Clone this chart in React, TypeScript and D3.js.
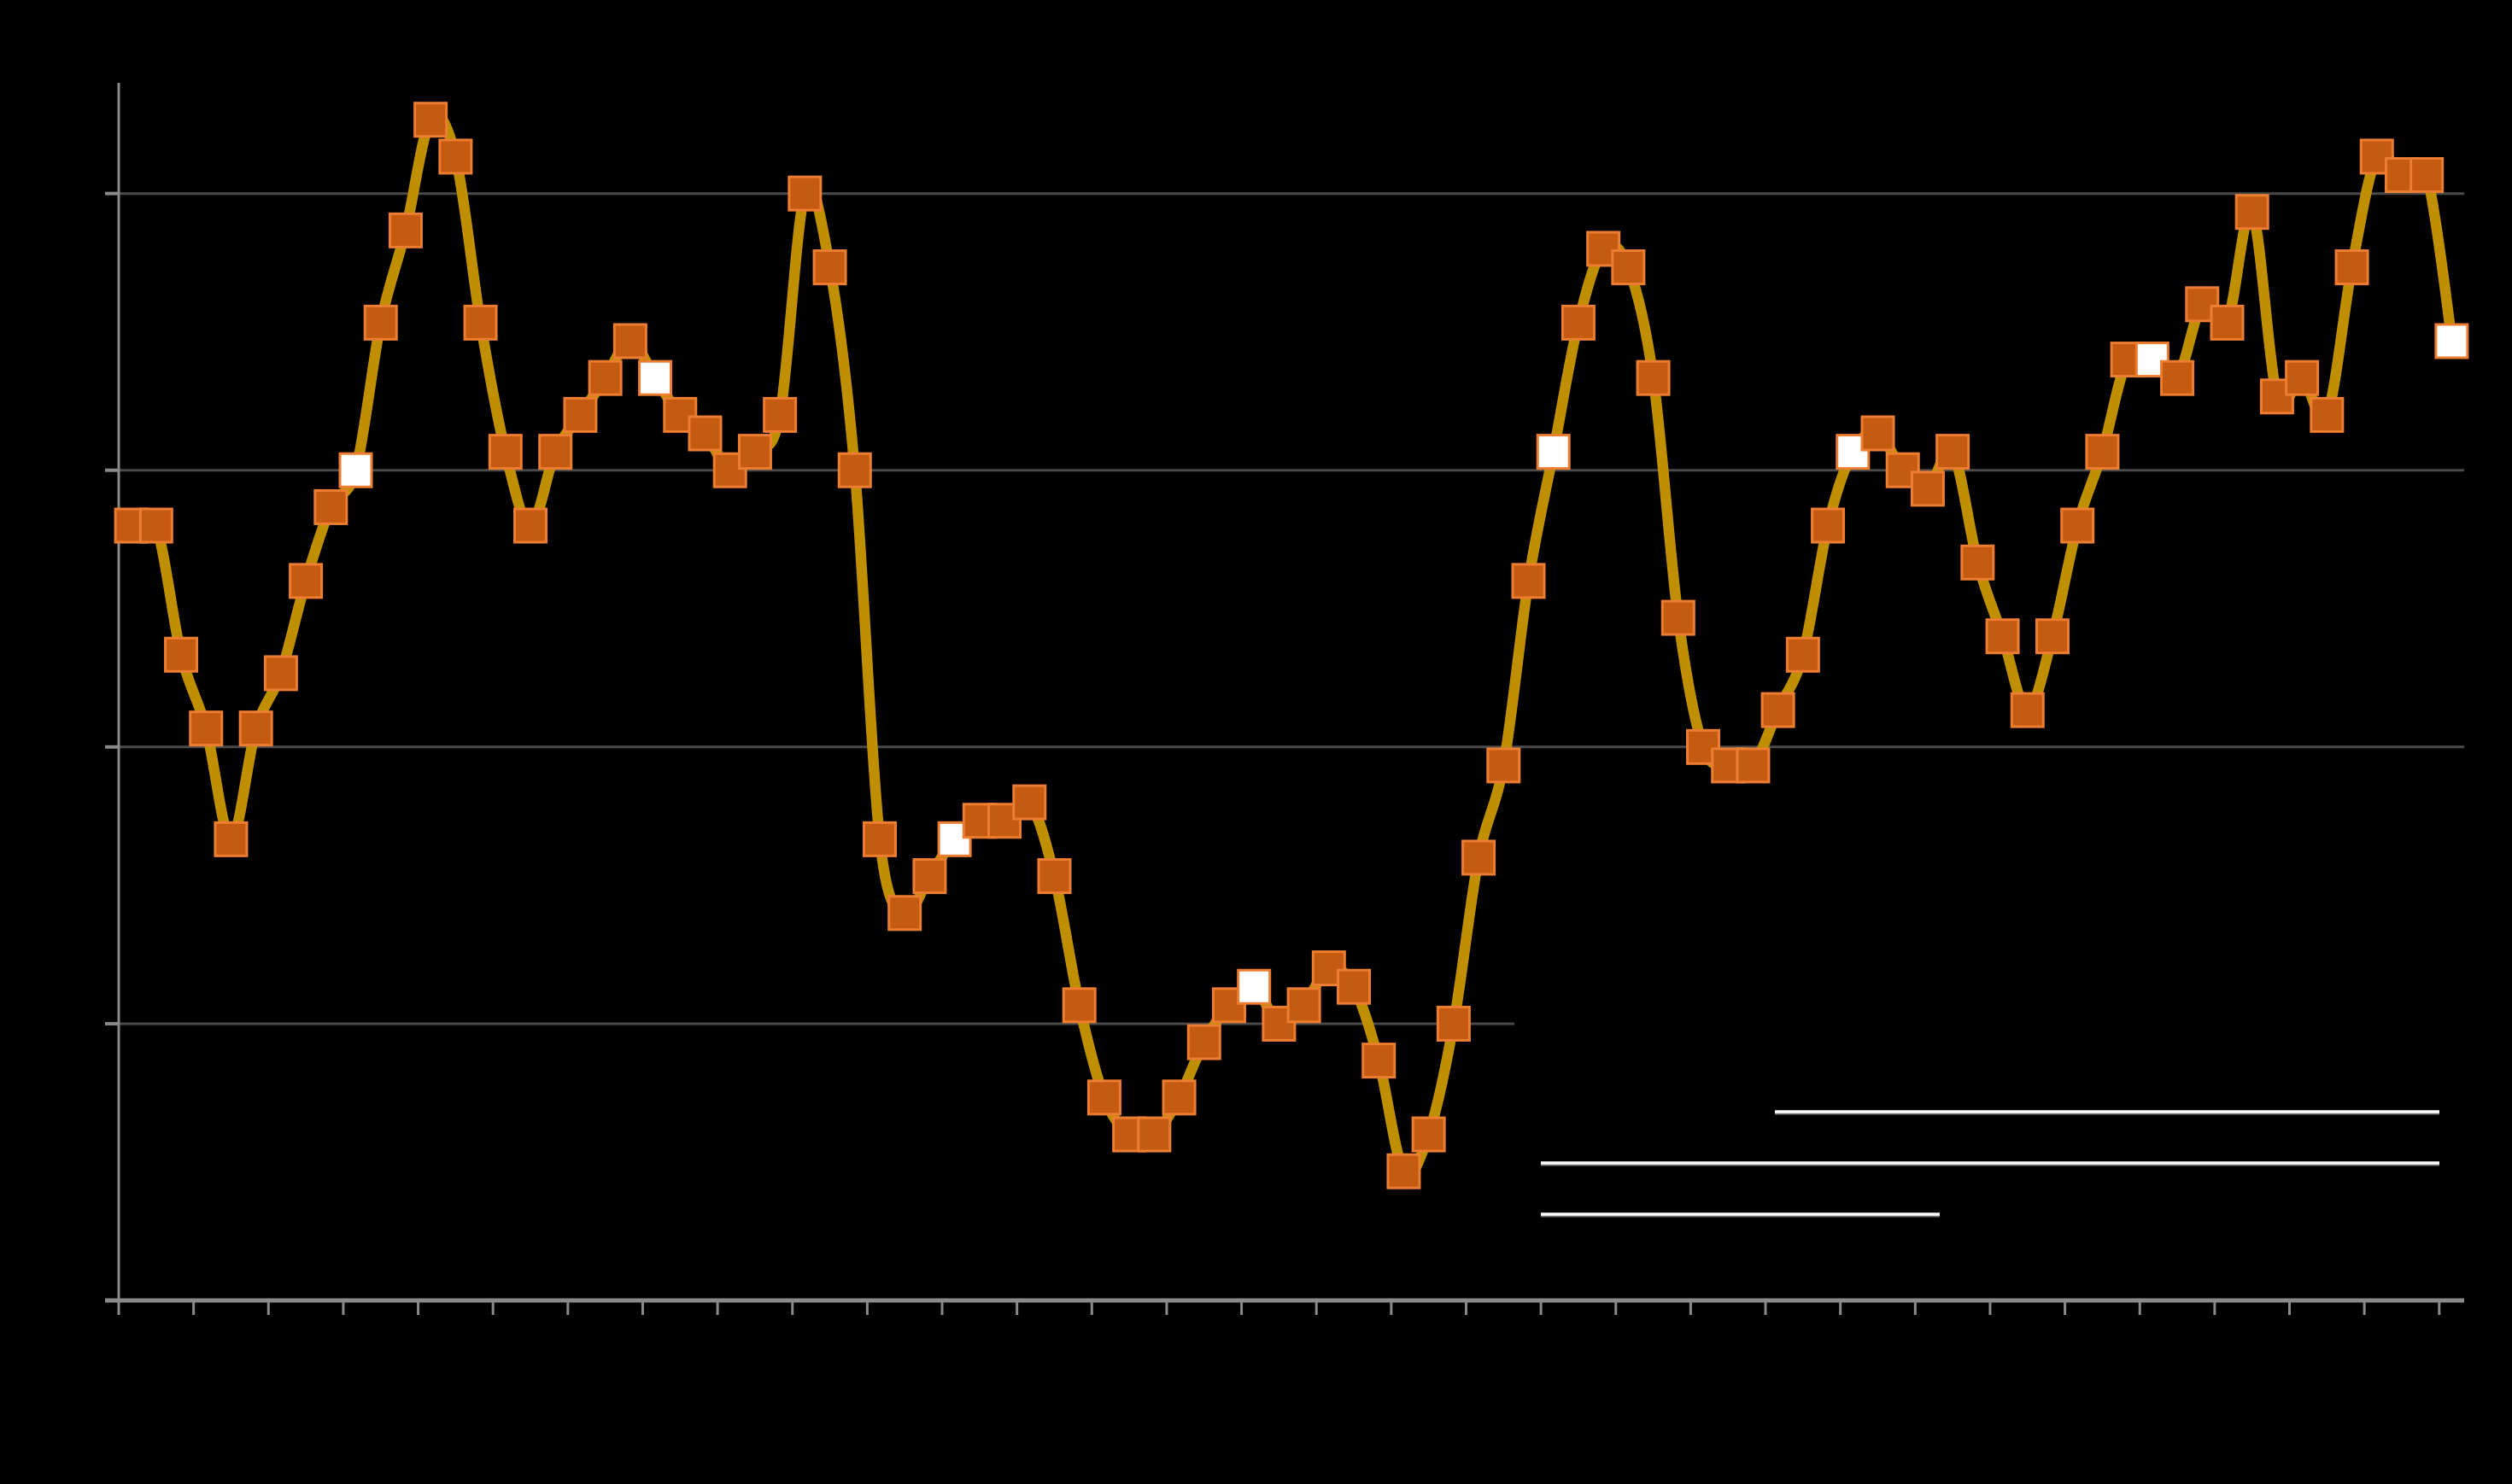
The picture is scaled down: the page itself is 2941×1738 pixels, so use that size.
import React, { useEffect, useRef } from "react";
import * as d3 from "d3";

// Series values (y units: gridlines every 15)
const values: number[] = [
  42, 42, 35, 31, 25, 31, 34, 39, 43, 45,
  53, 58, 64, 62, 53, 46, 42, 46, 48, 50,
  52, 50, 48, 47, 45, 46, 48, 60, 56, 45,
  25, 21, 23, 25, 26, 26, 27, 23, 16, 11,
  9, 9, 11, 14, 16, 17, 15, 16, 18, 17,
  13, 7, 9, 15, 24, 29, 39, 46, 53, 57,
  56, 50, 37, 30, 29, 29, 32, 35, 42, 46,
  47, 45, 44, 46, 40, 36, 32, 36, 42, 46,
  51, 51, 50, 54, 53, 59, 49, 50, 48, 56,
  62, 61, 61, 52,
];
// Indices of highlighted (white) markers
const highlighted: number[] = [9, 21, 33, 45, 57, 69, 81, 93];
const yTicks: number[] = [0, 15, 30, 45, 60];
const yMax = 66;
const tickEvery = 3;

const W = 2941;
const H = 1738;

export default function App() {
  const ref = useRef<SVGSVGElement>(null);

  useEffect(() => {
    document.body.style.margin = "0";
    document.body.style.background = "#000";
    const svg = d3.select(ref.current);
    svg.selectAll("*").remove();

    const left = 139, right = 2885, top = 97, bottom = 1523;
    const idx = values.map((_, i) => i);
    const x = d3.scaleBand<number>().domain(idx).range([left, right]).padding(0);
    const cx = (i: number) => (x(i) as number) + x.bandwidth() / 2;
    const y = d3.scaleLinear().domain([0, yMax]).range([bottom, top]);

    svg.append("rect").attr("width", W).attr("height", H).attr("fill", "#000");

    // gridlines
    svg.append("g").selectAll("line")
      .data(yTicks.filter((t) => t > 0))
      .join("line")
      .attr("x1", left).attr("x2", right)
      .attr("y1", (d) => y(d)).attr("y2", (d) => y(d))
      .attr("stroke", "#4a4a4a").attr("stroke-width", 3);

    // legend box (covers gridlines)
    const lx = 1773, ly = 1140, lw = right - lx + 10, lh = 340;
    svg.append("rect").attr("x", lx).attr("y", ly).attr("width", lw).attr("height", lh).attr("fill", "#000");
    const legendLines = [
      { x1: 2078, x2: 2856, y: 1302 },
      { x1: 1804, x2: 2856, y: 1362 },
      { x1: 1804, x2: 2271, y: 1422 },
    ];
    const lg = svg.append("g");
    lg.selectAll("line.sh").data(legendLines).join("line")
      .attr("class", "sh")
      .attr("x1", (d) => d.x1).attr("x2", (d) => d.x2)
      .attr("y1", (d) => d.y + 2).attr("y2", (d) => d.y + 2)
      .attr("stroke", "#777").attr("stroke-width", 3);
    lg.selectAll("line.ln").data(legendLines).join("line")
      .attr("class", "ln")
      .attr("x1", (d) => d.x1).attr("x2", (d) => d.x2)
      .attr("y1", (d) => d.y).attr("y2", (d) => d.y)
      .attr("stroke", "#fff").attr("stroke-width", 3.5);

    // axes
    const axisColor = "#8a8a8a";
    svg.append("line").attr("x1", left).attr("x2", left).attr("y1", top).attr("y2", bottom + 2)
      .attr("stroke", axisColor).attr("stroke-width", 3);
    svg.append("g").selectAll("line").data(yTicks).join("line")
      .attr("x1", left - 16).attr("x2", left)
      .attr("y1", (d) => y(d)).attr("y2", (d) => y(d))
      .attr("stroke", axisColor).attr("stroke-width", 4);
    svg.append("line").attr("x1", left - 16).attr("x2", right).attr("y1", bottom).attr("y2", bottom)
      .attr("stroke", axisColor).attr("stroke-width", 5);
    const xTickIdx = d3.range(0, values.length, tickEvery);
    svg.append("g").selectAll("line").data(xTickIdx).join("line")
      .attr("x1", (d) => x(d) as number).attr("x2", (d) => x(d) as number)
      .attr("y1", bottom).attr("y2", bottom + 17)
      .attr("stroke", axisColor).attr("stroke-width", 3);

    // line (uniform Catmull-Rom, like spreadsheet smoothing)
    const line = d3.line<number>()
      .x((d, i) => cx(i))
      .y((d) => y(d))
      .curve(d3.curveCardinal.tension(0));
    svg.append("path").datum(values).attr("d", line)
      .attr("fill", "none").attr("stroke", "#BF8F00").attr("stroke-width", 12.5)
      .attr("stroke-linejoin", "round");

    // markers
    const mw = 37, mh = 39;
    svg.append("g").selectAll("rect").data(values).join("rect")
      .attr("x", (d, i) => cx(i) - mw / 2)
      .attr("y", (d) => y(d) - mh / 2)
      .attr("width", mw).attr("height", mh)
      .attr("fill", (d, i) => (highlighted.includes(i) ? "#ffffff" : "#C55A11"))
      .attr("stroke", "#ED7D31").attr("stroke-width", 3);
  }, []);

  return <svg ref={ref} width={W} height={H} style={{ display: "block" }} />;
}
